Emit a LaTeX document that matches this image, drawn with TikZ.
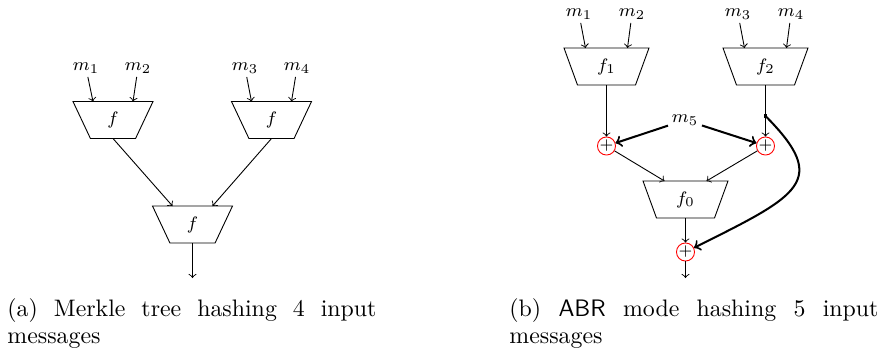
\RequirePackage{fix-cm}
\documentclass[tikz,border=0pt]{standalone}
\usetikzlibrary{shapes.geometric,calc}
\newcommand{\captfont}{\fontsize{10.6}{12}\selectfont}
\newcommand{\lblfont}{\fontsize{8}{9.6}\selectfont}
\begin{document}
\begin{tikzpicture}[x=0.4444pt,y=-0.4444pt,
  lbl/.style={font=\lblfont, inner sep=1.5pt},
  trapa/.style={trapezium, draw, line width=0.4pt, shape border rotate=180,
    trapezium left angle=74.9, trapezium right angle=74.9, trapezium stretches=true,
    minimum width=35.56pt, minimum height=16.44pt, inner sep=0pt, font=\lblfont},
  trapb/.style={trapa, minimum width=37.78pt},
  xorn/.style={circle, draw=red, line width=0.4pt, minimum size=7.1pt, inner sep=0pt,
    font=\fontsize{7}{7}\selectfont},
  thinarrow/.style={->, line width=0.4pt},
  thickarrow/.style={->, line width=0.9pt},
  joint/.style={fill, rectangle, minimum size=1.5pt, inner sep=0pt},
  capt/.style={font=\captfont, inner sep=0pt, anchor=base west}]
\useasboundingbox (0,0) rectangle (879,350);

% ---------- (a) Merkle tree ----------
\node[lbl] (am1) at (86,68) {$m_1$};
\node[lbl] (am2) at (138,68) {$m_2$};
\node[lbl] (am3) at (245,68) {$m_3$};
\node[lbl] (am4) at (297,68) {$m_4$};
\node[trapa] (fa) at (113,120) {$f$};
\node[trapa] (fb) at (271.5,120) {$f$};
\node[trapa] (fc) at (192.5,224.5) {$f$};
\coordinate (fa-in1) at ($(fa.center)+(-20,-18.5)$);
\coordinate (fa-in2) at ($(fa.center)+(20,-18.5)$);
\coordinate (fb-in1) at ($(fb.center)+(-20,-18.5)$);
\coordinate (fb-in2) at ($(fb.center)+(20,-18.5)$);
\coordinate (fc-in1) at ($(fc.center)+(-20,-18.5)$);
\coordinate (fc-in2) at ($(fc.center)+(20,-18.5)$);
\coordinate (fa-out) at ($(fa.center)+(0,18.5)$);
\coordinate (fb-out) at ($(fb.center)+(0,18.5)$);
\coordinate (fc-out) at ($(fc.center)+(0,18.5)$);
\coordinate (aout) at (192.5,278);
\draw[thinarrow] (am1) -- (fa-in1);
\draw[thinarrow] (am2) -- (fa-in2);
\draw[thinarrow] (am3) -- (fb-in1);
\draw[thinarrow] (am4) -- (fb-in2);
\draw[thinarrow] (fa-out) -- (fc-in1);
\draw[thinarrow] (fb-out) -- (fc-in2);
\draw[thinarrow] (fc-out) -- (aout);

% ---------- (b) ABR mode ----------
\node[lbl] (bm1) at (579,14) {$m_1$};
\node[lbl] (bm2) at (632,14) {$m_2$};
\node[lbl] (bm3) at (738,14) {$m_3$};
\node[lbl] (bm4) at (791,14) {$m_4$};
\node[lbl] (bm5) at (685,120) {$m_5$};
\node[trapb] (f1) at (606.5,66.5) {$f_1$};
\node[trapb] (f2) at (765.5,66.5) {$f_2$};
\node[trapb] (f0) at (685.5,199.5) {$f_0$};
\node[xorn] (x1) at (606.5,146) {$\mathbf{+}$};
\node[xorn] (x2) at (765.5,146) {$\mathbf{+}$};
\node[xorn] (x3) at (685.5,252) {$\mathbf{+}$};
\node[joint] (dot) at (765.5,116) {};
\coordinate (f1-in1) at ($(f1.center)+(-21,-18.5)$);
\coordinate (f1-in2) at ($(f1.center)+(21,-18.5)$);
\coordinate (f2-in1) at ($(f2.center)+(-21,-18.5)$);
\coordinate (f2-in2) at ($(f2.center)+(21,-18.5)$);
\coordinate (f0-in1) at ($(f0.center)+(-21,-18.5)$);
\coordinate (f0-in2) at ($(f0.center)+(21,-18.5)$);
\coordinate (f1-out) at ($(f1.center)+(0,18.5)$);
\coordinate (f2-out) at ($(f2.center)+(0,18.5)$);
\coordinate (f0-out) at ($(f0.center)+(0,18.5)$);
\coordinate (bout) at (685.5,278);
\draw[thinarrow] (bm1) -- (f1-in1);
\draw[thinarrow] (bm2) -- (f1-in2);
\draw[thinarrow] (bm3) -- (f2-in1);
\draw[thinarrow] (bm4) -- (f2-in2);
\draw[thinarrow] (f1-out) -- (x1);
\draw[thinarrow] (f2-out) -- (x2);
\draw[thinarrow] (x1) -- (f0-in1);
\draw[thinarrow] (x2) -- (f0-in2);
\draw[thinarrow] (f0-out) -- (x3);
\draw[thinarrow] (x3) -- (bout);
\draw[thickarrow] (bm5) -- (x1);
\draw[thickarrow] (bm5) -- (x2);
\draw[thickarrow] (dot.center) .. controls (830,181) and (800,195) .. (x3);
\node[joint] at (dot) {};

% ---------- captions ----------
\node[capt] (capa) at (7,316) {\makebox[164pt][s]{(a) Merkle tree hashing 4 input}};
\node[capt] (capa2) at (7,343) {messages};
\node[capt] (capb) at (509,316) {\makebox[164pt][s]{(b) \textsf{ABR} mode hashing 5 input}};
\node[capt] (capb2) at (509,343) {messages};
\end{tikzpicture}
\end{document}
